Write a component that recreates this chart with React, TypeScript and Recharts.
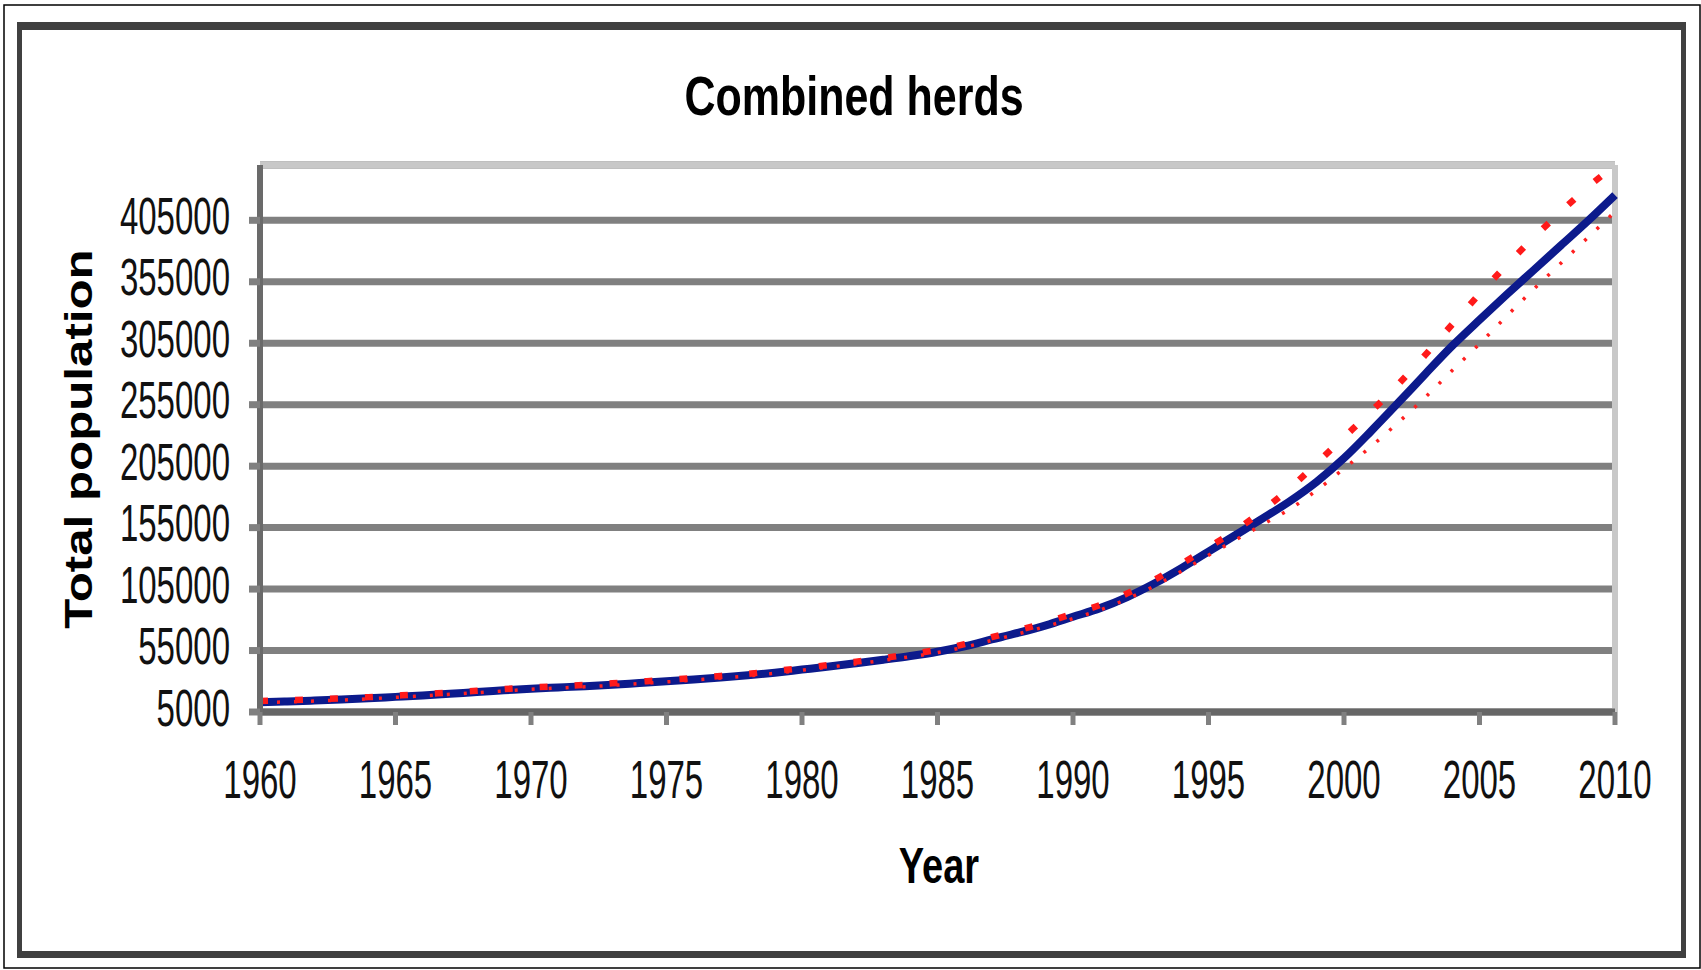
import React from "react";
import { LineChart, Line, XAxis, YAxis, CartesianGrid, ReferenceLine } from "recharts";

const years = [
  1960, 1961, 1962, 1963, 1964, 1965, 1966, 1967, 1968, 1969,
  1970, 1971, 1972, 1973, 1974, 1975, 1976, 1977, 1978, 1979,
  1980, 1981, 1982, 1983, 1984, 1985, 1986, 1987, 1988, 1989,
  1990, 1991, 1992, 1993, 1994, 1995, 1996, 1997, 1998, 1999,
  2000, 2001, 2002, 2003, 2004, 2005, 2006, 2007, 2008, 2009, 2010,
];

// observed combined population (solid blue)
const observed = [
  13000, 13600, 14300, 15100, 16100, 17300, 18500, 19900, 21200, 22600,
  24000, 25000, 26000, 27200, 28600, 30000, 31500, 33100, 34900, 37000,
  39500, 42000, 44700, 47500, 50500, 54000, 58500, 64000, 69500, 75500,
  82500, 89500, 98500, 109500, 122000, 135500, 149000, 162500, 176500, 192500,
  211500, 233500, 256500, 280000, 303000, 324000, 344500, 364500, 384500, 404500, 425500,
];

// upper red dotted curve
const upper = [
  14000, 14600, 15300, 16100, 17100, 18300, 19500, 20900, 22200, 23600,
  25000, 26000, 27000, 28300, 29700, 31100, 32600, 34300, 36100, 38300,
  40800, 43300, 46000, 48900, 52000, 55600, 60200, 65900, 71600, 77800,
  85000, 92000, 101500, 112500, 125500, 139000, 152700, 169000, 187000, 207500,
  228500, 249500, 271500, 295500, 320500, 345000, 368500, 391000, 412000, 432000, 449500,
];

// lower red dotted curve
const lower = [
  12600, 13200, 13900, 14700, 15700, 16900, 18100, 19400, 20700, 22100,
  23500, 24500, 25500, 26700, 28100, 29500, 31000, 32600, 34400, 36500,
  39000, 41500, 44200, 47000, 50000, 53400, 57800, 63200, 68700, 74600,
  81000, 88000, 97000, 107500, 119500, 132500, 145000, 157500, 170000, 185500,
  203000, 221000, 240500, 261000, 283000, 304500, 327000, 349000, 370000, 391000, 412000,
];

const xTicks = [1960, 1965, 1970, 1975, 1980, 1985, 1990, 1995, 2000, 2005, 2010];
const yTicks = [5000, 55000, 105000, 155000, 205000, 255000, 305000, 355000, 405000];

const data = years.map((year, i) => ({
  year,
  observed: observed[i],
  upper: upper[i],
  lower: lower[i],
}));

const FONT = "'Liberation Sans', Arial, Helvetica, sans-serif";

const YTick = (props: any) => {
  const { x, y, payload } = props;
  return (
    <text
      transform={`translate(${x},${y + 13.5}) scale(1,1.55)`}
      textAnchor="end"
      fontFamily={FONT}
      fontSize={33}
      fill="#111"
    >
      {payload.value}
    </text>
  );
};

const XTick = (props: any) => {
  const { x, y, payload } = props;
  return (
    <text
      transform={`translate(${x},${y + 71}) scale(1,1.6)`}
      textAnchor="middle"
      fontFamily={FONT}
      fontSize={33}
      fill="#111"
    >
      {payload.value}
    </text>
  );
};

export default function App() {
  return (
    <div style={{ position: "absolute", left: 0, top: 0, width: 1701, height: 970, background: "#fff" }}>
      <svg width={1701} height={970} style={{ position: "absolute", left: 0, top: 0 }}>
        <rect x={4} y={5} width={1696} height={963} fill="none" stroke="#000" strokeWidth={1.5} />
        <rect x={17} y={22} width={1669} height={8} fill="#404040" />
        <rect x={17} y={22} width={5} height={936} fill="#404040" />
        <rect x={1681} y={22} width={5} height={936} fill="#404040" />
        <rect x={17} y={951} width={1669} height={7} fill="#404040" />
      </svg>
      <div style={{ position: "absolute", left: 0, top: 0 }}>
        <LineChart
          width={1701}
          height={970}
          data={data}
          margin={{ top: 165, right: 86, bottom: 198, left: 0 }}
        >
          <CartesianGrid horizontal vertical={false} stroke="#808080" strokeWidth={7} />
          <ReferenceLine y={450000} stroke="#c8c8c8" strokeWidth={6} />
          <ReferenceLine x={2010} stroke="#c8c8c8" strokeWidth={6} />
          <XAxis
            dataKey="year"
            type="number"
            domain={[1960, 2010]}
            ticks={xTicks}
            interval={0}
            height={60}
            tickSize={13}
            tickMargin={2}
            axisLine={{ stroke: "#666666", strokeWidth: 7 }}
            tickLine={{ stroke: "#808080", strokeWidth: 5 }}
            tick={<XTick />}
          />
          <YAxis
            type="number"
            domain={[5000, 450000]}
            allowDataOverflow
            ticks={yTicks}
            interval={0}
            width={260}
            tickSize={11}
            tickMargin={19}
            axisLine={{ stroke: "#6a6a6a", strokeWidth: 6 }}
            tickLine={{ stroke: "#808080", strokeWidth: 7 }}
            tick={<YTick />}
          />
          <Line
            type="monotone"
            dataKey="observed"
            stroke="#0c1a8c"
            strokeWidth={8}
            dot={false}
            isAnimationActive={false}
          />
          <Line
            type="monotone"
            dataKey="lower"
            stroke="#ff2020"
            strokeWidth={3.5}
            strokeDasharray="3 14"
            dot={false}
            isAnimationActive={false}
          />
          <Line
            type="monotone"
            dataKey="upper"
            stroke="#ff1a1a"
            strokeWidth={6.5}
            strokeDasharray="8 27"
            dot={false}
            isAnimationActive={false}
          />
        </LineChart>
      </div>
      <svg width={1701} height={970} style={{ position: "absolute", left: 0, top: 0, pointerEvents: "none" }}>
        <text
          transform="translate(854,115) scale(1,1.3)"
          textAnchor="middle"
          fontFamily={FONT}
          fontWeight="bold"
          fontSize={43}
          fill="#000"
        >
          Combined herds
        </text>
        <text
          transform="translate(939,883) scale(1,1.33)"
          textAnchor="middle"
          fontFamily={FONT}
          fontWeight="bold"
          fontSize={38}
          fill="#000"
        >
          Year
        </text>
        <text
          transform="translate(92,439) rotate(-90) scale(1.28,1)"
          textAnchor="middle"
          fontFamily={FONT}
          fontWeight="bold"
          fontSize={38.5}
          fill="#000"
        >
          Total population
        </text>
      </svg>
    </div>
  );
}
